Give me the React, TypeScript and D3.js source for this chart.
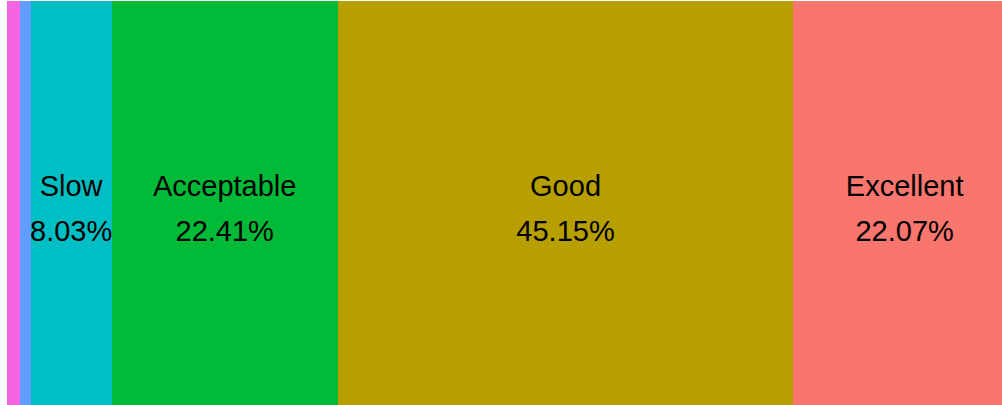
import { useEffect, useRef } from "react";
import * as d3 from "d3";

// segments left to right
const categories = ["Unusable", "Very Slow", "Slow", "Acceptable", "Good", "Excellent"];
const shares = [1.3, 1.04, 8.03, 22.41, 45.15, 22.07];
const colors = ["#F564E3", "#619CFF", "#00BFC4", "#00BA38", "#B79F00", "#F8766D"];

const W = 1002;
const H = 405;

export default function App() {
  const ref = useRef<SVGSVGElement>(null);

  useEffect(() => {
    const svg = d3.select(ref.current);
    svg.selectAll("*").remove();

    const total = d3.sum(shares);
    const x = d3.scaleLinear().domain([0, total]).range([7, 7 + 10.09 * total]);
    const y0 = 1;
    const y1 = 415;

    let acc = 0;
    const segs = shares.map((v, i) => {
      const s = { name: categories[i], value: v, color: colors[i], start: acc, end: acc + v };
      acc += v;
      return s;
    });

    const g = svg.append("g");
    g.selectAll("rect")
      .data(segs)
      .enter()
      .append("rect")
      .attr("x", d => Math.round(x(d.start)))
      .attr("y", y0)
      .attr("width", d => Math.round(x(d.end)) - Math.round(x(d.start)))
      .attr("height", y1 - y0)
      .attr("fill", d => d.color)
      .attr("shape-rendering", "crispEdges");

    const labelled = segs.filter(d => x(d.end) - x(d.start) > 60);
    const lab = g.selectAll("g.lab")
      .data(labelled)
      .enter()
      .append("g")
      .attr("class", "lab")
      .attr("transform", d => `translate(${(x(d.start) + x(d.end)) / 2},0)`);

    lab.append("text")
      .attr("y", 196)
      .attr("text-anchor", "middle")
      .attr("font-family", "Liberation Sans, Arial, sans-serif")
      .attr("font-size", 29)
      .attr("fill", "#000")
      .text(d => d.name);
    lab.append("text")
      .attr("y", 241)
      .attr("text-anchor", "middle")
      .attr("font-family", "Liberation Sans, Arial, sans-serif")
      .attr("font-size", 29)
      .attr("fill", "#000")
      .text(d => d.value.toFixed(2) + "%");
  }, []);

  return (
    <svg
      ref={ref}
      width={W}
      height={H}
      style={{ position: "absolute", left: 0, top: 0, display: "block", background: "#fff" }}
    />
  );
}
